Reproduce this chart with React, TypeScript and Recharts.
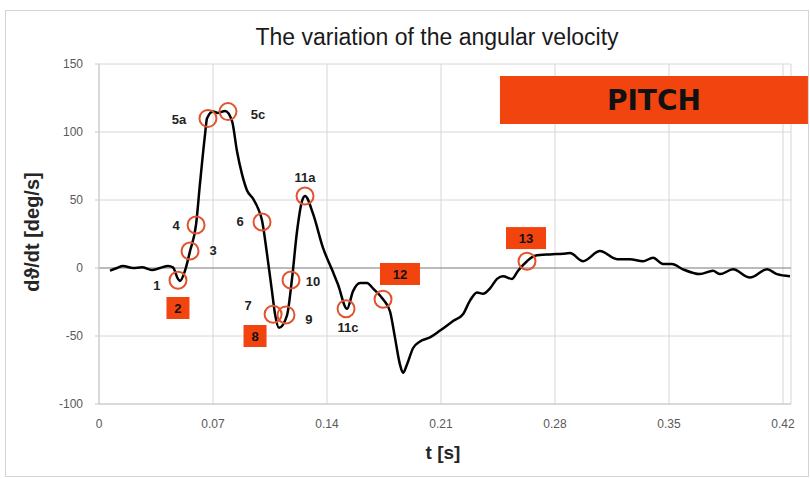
import React from 'react';
import {
  ComposedChart,
  Line,
  Scatter,
  XAxis,
  YAxis,
  CartesianGrid,
  ReferenceLine,
  ReferenceArea,
} from 'recharts';

const curveT = [
  0.0068, 0.0111, 0.0147, 0.0209, 0.0264, 0.0325, 0.0375, 0.0424, 0.0454, 0.0485,
  0.0497, 0.0528, 0.0559, 0.0596, 0.062, 0.0651, 0.0663, 0.07, 0.0731, 0.0774,
  0.0817, 0.0847, 0.0878, 0.0909, 0.0946, 0.0976, 0.1001, 0.1032, 0.1062, 0.1081,
  0.1105, 0.1154, 0.1185, 0.1216, 0.1246, 0.1265, 0.1314, 0.1375, 0.1437, 0.1467,
  0.1523, 0.156, 0.1603, 0.1646, 0.1682, 0.1744, 0.1787, 0.1817, 0.1848, 0.1867,
  0.1891, 0.1928, 0.1971, 0.2032, 0.2094, 0.2174, 0.2235, 0.2278, 0.2321, 0.2358,
  0.2401, 0.2444, 0.2481, 0.2536, 0.2573, 0.2628, 0.2677, 0.2769, 0.2849, 0.2892,
  0.2972, 0.3076, 0.3181, 0.326, 0.334, 0.3402, 0.3463, 0.3518, 0.3586, 0.369,
  0.377, 0.3813, 0.3893, 0.3997, 0.4102, 0.4163, 0.4243,
];
const curveV = [
  -2, 0, 1.5, 0, 0.5, -1.5, 0, 1.5, 0.5, -8,
  -9.5, -2, 12.5, 32, 62, 98, 110, 115, 114, 115.5,
  108, 86, 69, 57, 51, 44, 35, 10, -17, -34,
  -44, -35, -8, 27, 49, 53, 40, 15, -3, -12,
  -30, -17, -11, -11, -15, -23, -32, -51, -71, -77,
  -71, -59, -54, -51, -46, -39, -34, -24, -18, -19,
  -15, -8, -6, -8, -2, 5, 9, 10, 10.5, 11,
  5, 12.5, 6.5, 6.5, 5, 7.5, 3, 3, -1, -4.5,
  -2, -4.5, -1, -7, -1, -4.5, -6,
];

const markerT = [0.0485, 0.0559, 0.0596, 0.0669, 0.0792, 0.1001, 0.1069, 0.1148, 0.1179, 0.1265, 0.1517, 0.1744, 0.2628];
const markerV = [-9, 12.5, 31.6, 110, 115, 33.8, -34, -34.5, -8.8, 52.9, -30, -23, 5];

const labelText = ['1', '2', '3', '4', '5a', '5c', '6', '7', '8', '9', '10', '11a', '11c', '12', '13'];
const labelT = [0.0356, 0.0485, 0.07, 0.0473, 0.0491, 0.0976, 0.0866, 0.0915, 0.0958, 0.1289, 0.1314, 0.1265, 0.1529, 0.1848, 0.2622];
const labelV = [-12.5, -29.4, 13.2, 31.6, 109.6, 113.2, 34.6, -27.2, -50, -37.5, -9.6, 66.9, -43.4, -4.4, 22];
const labelBoxed = [false, true, false, false, false, false, false, false, true, false, false, false, false, true, true];

const xTicks = [0, 0.07, 0.14, 0.21, 0.28, 0.35, 0.42];
const yTicks = [-100, -50, 0, 50, 100, 150];

const curveData = curveT.map((t, i) => ({ t, v: curveV[i] }));
const markerData = markerT.map((t, i) => ({ t, v: markerV[i] }));
const labelData = labelText.map((text, i) => ({ t: labelT[i], v: labelV[i], text, boxed: labelBoxed[i] }));

const RED = '#f2440f';
const CIRCLE = '#e0532e';
const FONT = 'Liberation Sans, Arial, sans-serif';

const CircleShape = (props: any) => {
  const { cx, cy } = props;
  if (cx == null || cy == null) return null;
  return <circle cx={cx} cy={cy} r={8.5} fill="none" stroke={CIRCLE} strokeWidth={2} />;
};

const LabelShape = (props: any) => {
  const { cx, cy, payload } = props;
  if (cx == null || cy == null) return null;
  const text: string = payload.text;
  if (payload.boxed) {
    const w = text.length > 1 ? 40 : 23;
    const h = 22;
    return (
      <g>
        <rect x={cx - w / 2} y={cy - h / 2} width={w} height={h} fill={RED} />
        <text x={cx} y={cy} dy="0.36em" textAnchor="middle" fontFamily={FONT} fontWeight="bold" fontSize={13} fill="#111">
          {text}
        </text>
      </g>
    );
  }
  return (
    <text x={cx} y={cy} dy="0.36em" textAnchor="middle" fontFamily={FONT} fontWeight="bold" fontSize={13} fill="#222">
      {text}
    </text>
  );
};

const tickStyle = { fontFamily: FONT, fontSize: 12, fill: '#595959' };

export default function App() {
  return (
    <div style={{ position: 'absolute', left: 0, top: 0, width: 810, height: 479, background: '#fff', overflow: 'hidden' }}>
      <div style={{ position: 'absolute', left: 5, top: 10, width: 802, height: 465, border: '1px solid #d4d4d4' }} />
      <div
        style={{
          position: 'absolute',
          left: 0,
          top: 23,
          width: 874,
          textAlign: 'center',
          fontFamily: FONT,
          fontSize: 23,
          lineHeight: '28px',
          color: '#1a1a1a',
        }}
      >
        The variation of the angular velocity
      </div>
      <div
        style={{
          position: 'absolute',
          left: 32 - 100,
          top: 232 - 12,
          width: 200,
          height: 24,
          lineHeight: '24px',
          textAlign: 'center',
          transform: 'rotate(-90deg)',
          fontFamily: FONT,
          fontWeight: 'bold',
          fontSize: 20,
          color: '#262626',
        }}
      >
        dϑ/dt [deg/s]
      </div>
      <div
        style={{
          position: 'absolute',
          left: 443 - 50,
          top: 453 - 12,
          width: 100,
          height: 24,
          lineHeight: '24px',
          textAlign: 'center',
          fontFamily: FONT,
          fontWeight: 'bold',
          fontSize: 19,
          color: '#262626',
        }}
      >
        t [s]
      </div>
      <div style={{ position: 'absolute', left: 0, top: 0 }}>
        <ComposedChart width={810} height={479} margin={{ top: 64, right: 19, left: 39, bottom: 45 }}>
          <CartesianGrid stroke="#d6d6d6" strokeWidth={1} />
          <XAxis
            dataKey="t"
            type="number"
            domain={[0, 0.4249]}
            ticks={xTicks}
            allowDataOverflow
            height={30}
            tickLine={false}
            tickSize={0}
            tickMargin={15}
            axisLine={{ stroke: '#c8c8c8' }}
            tick={tickStyle}
          />
          <YAxis
            type="number"
            domain={[-100, 150]}
            ticks={yTicks}
            width={60}
            tickSize={4}
            tickMargin={12}
            tickLine={{ stroke: '#c8c8c8' }}
            axisLine={{ stroke: '#c8c8c8' }}
            tick={tickStyle}
          />
          <ReferenceLine y={0} stroke="#8c8c8c" strokeWidth={1.2} />
          <ReferenceArea
            x1={0.2462}
            x2={0.4353}
            y1={105.9}
            y2={141.2}
            ifOverflow="visible"
            fill={RED}
            fillOpacity={1}
            stroke="none"
            label={{ value: 'PITCH', position: 'center', fill: '#111', fontSize: 28, fontWeight: 'bold', fontFamily: 'DejaVu Sans, sans-serif' }}
          />
          <Line
            data={curveData}
            dataKey="v"
            type="monotone"
            stroke="#000"
            strokeWidth={2.5}
            dot={false}
            activeDot={false}
            isAnimationActive={false}
          />
          <Scatter data={markerData} dataKey="v" shape={CircleShape} isAnimationActive={false} />
          <Scatter data={labelData} dataKey="v" shape={LabelShape} isAnimationActive={false} />
        </ComposedChart>
      </div>
    </div>
  );
}
